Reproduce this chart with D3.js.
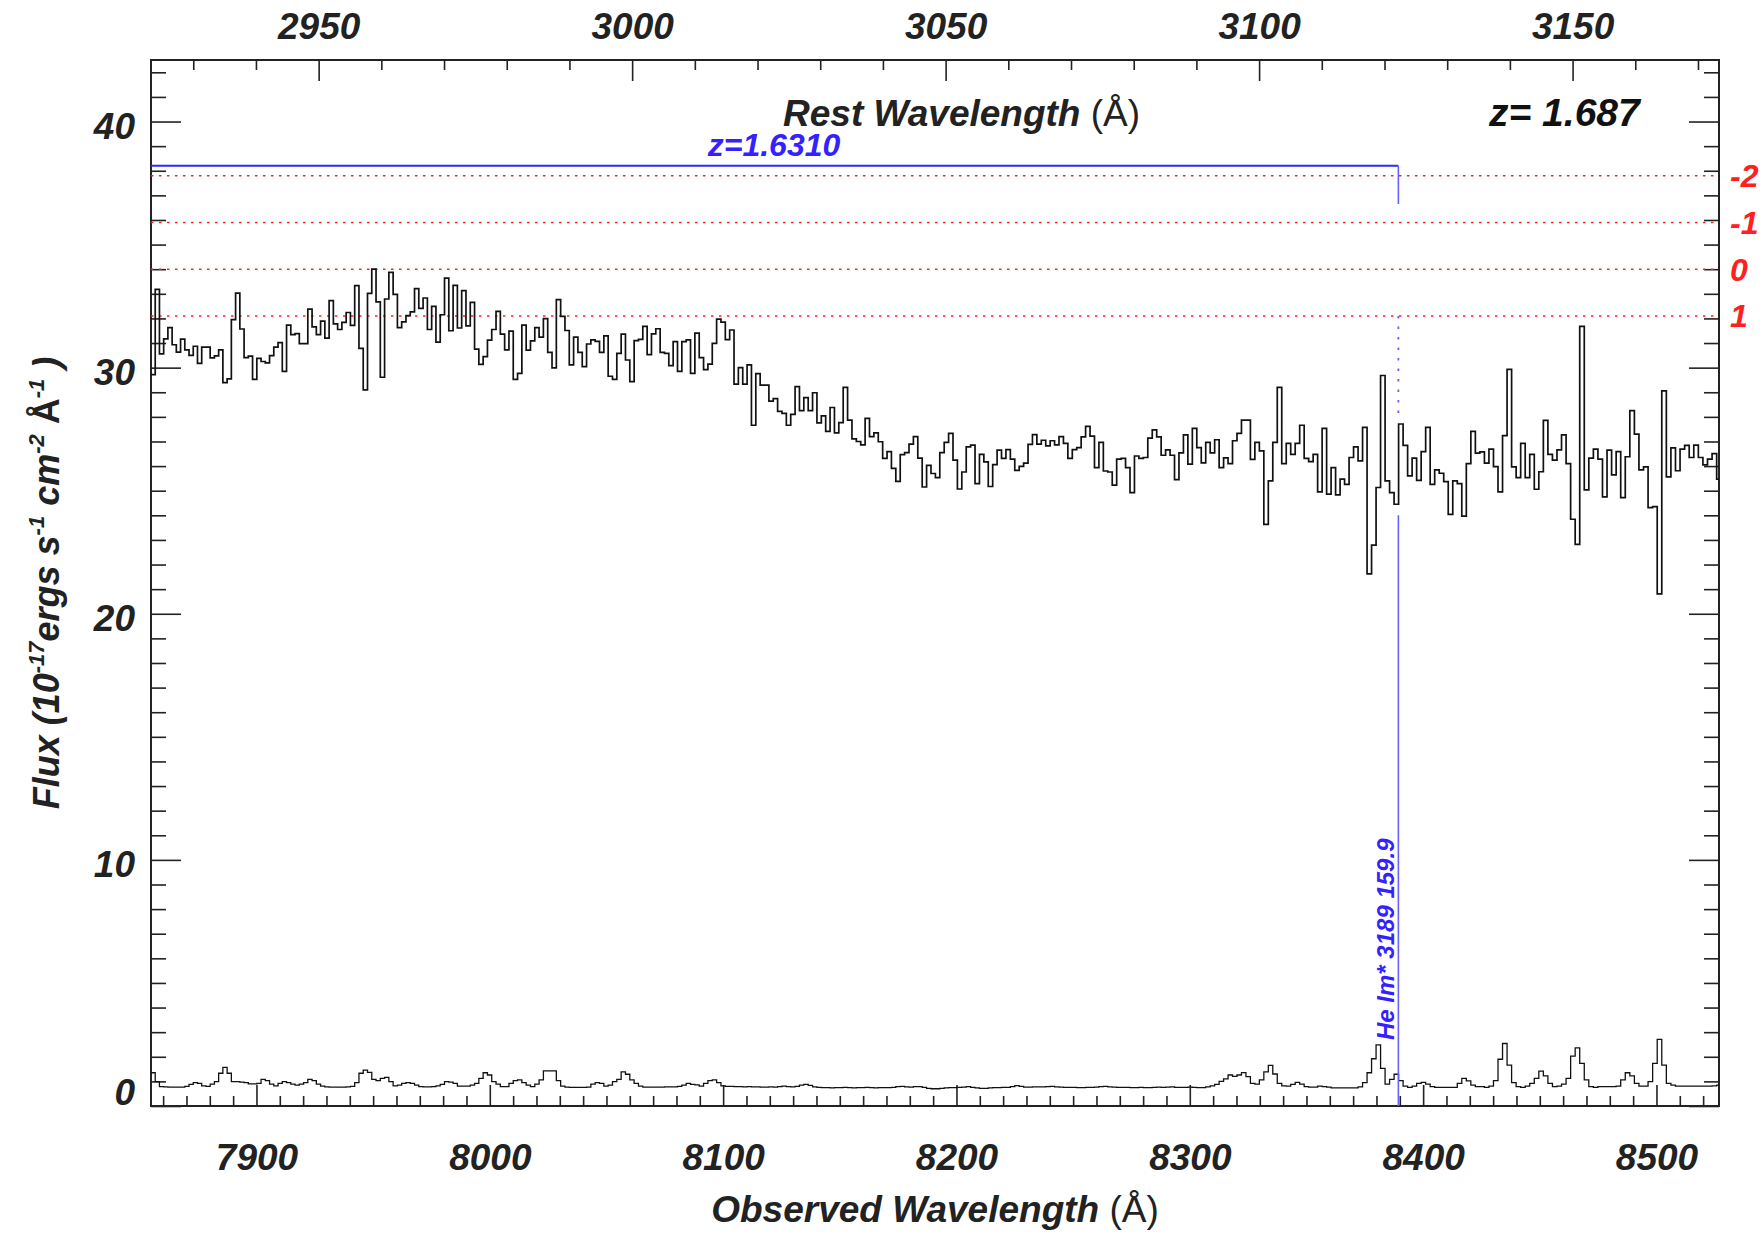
<!DOCTYPE html>
<html>
<head>
<meta charset="utf-8">
<script src="https://d3js.org/d3.v7.min.js"></script>
<style>
body { margin: 0; background: #fff; }
text { font-family: "Liberation Sans", Arial, Helvetica, sans-serif; }
</style>
</head>
<body>
<div id="viz"></div>
<script>
// spectrum binning (log-linear, SDSS style)
var waveStart = 7854.8;
var logStep = 1e-4;
var waveRange = [7854.8, 8526.8];

var flux = [
  29.72, 33.18, 30.56, 31.17, 31.63, 30.93, 30.63, 31.16, 30.72, 30.50,
  30.87, 30.17, 30.83, 30.83, 30.40, 30.48, 30.72, 29.39, 29.54, 31.95,
  33.03, 31.57, 30.41, 30.47, 29.52, 30.38, 30.25, 30.19, 30.49, 30.83,
  31.02, 29.85, 31.73, 31.34, 31.38, 30.98, 30.98, 32.38, 31.66, 31.34,
  31.89, 31.20, 32.72, 31.78, 31.55, 31.84, 32.24, 31.72, 33.33, 30.78,
  29.10, 33.02, 34.00, 32.67, 29.61, 32.79, 33.87, 32.98, 31.63, 31.86,
  32.11, 32.27, 33.21, 32.41, 32.83, 31.55, 32.49, 31.04, 32.15, 33.64,
  31.50, 33.34, 31.61, 33.13, 31.70, 32.65, 30.75, 30.13, 30.45, 31.12,
  31.55, 32.29, 31.36, 30.72, 31.48, 29.52, 29.77, 31.73, 30.71, 31.09,
  31.63, 31.24, 31.99,
  30.62, 29.99, 32.76, 32.08, 31.51, 30.11, 31.24, 30.62, 30.04, 30.96,
  31.13, 31.07, 30.62, 31.29, 29.65, 29.52, 30.58, 31.36, 30.31, 29.43,
  31.10, 31.15, 31.68, 30.53, 31.37, 31.58, 30.62, 30.58, 30.08, 31.06,
  29.85, 31.06, 31.13, 29.77, 31.40, 30.41, 29.92, 30.14, 30.99, 31.97,
  31.85, 31.14, 31.53, 29.33, 30.00, 29.33, 30.11, 27.66, 29.76, 29.29,
  29.29, 28.64, 28.74, 28.22, 28.14, 27.66, 28.10, 29.23, 28.25, 28.78,
  28.25, 28.98, 27.76, 28.04, 27.41, 28.38, 27.35, 27.77, 29.20, 27.87,
  27.11, 27.00, 26.86, 27.94, 27.20, 27.35, 26.99, 26.31, 26.59, 25.91,
  25.38, 26.47, 26.55, 26.89, 27.20, 26.32, 25.15, 26.03, 25.70, 25.53,
  26.55,
  26.96, 27.33, 26.24, 25.07, 25.76, 26.78, 26.85, 25.29, 26.48, 26.17,
  25.17, 26.06, 26.65, 26.31, 26.67, 26.28, 25.83, 25.99, 26.12, 26.88,
  27.28, 26.89, 27.05, 26.82, 27.03, 26.86, 27.20, 26.92, 26.31, 26.67,
  26.75, 27.19, 27.61, 27.22, 25.94, 26.96, 25.80, 25.76, 25.23, 26.28,
  26.31, 25.94, 24.92, 26.41, 26.31, 26.35, 27.14, 27.47, 27.19, 26.44,
  26.66, 26.44, 25.45, 26.54, 27.27, 26.08, 27.53, 26.75, 26.13, 26.96,
  26.54, 27.07, 25.94, 26.33, 26.10, 27.03, 27.33, 27.87, 27.87, 26.27,
  26.96, 26.62, 23.63, 25.40, 26.96, 29.20, 26.10, 26.92, 26.48, 26.92,
  27.66, 26.31, 26.18, 26.48, 24.95, 27.53,
  24.86, 25.94, 24.83, 25.47, 25.26, 26.35, 26.78, 26.21, 27.57, 21.62,
  22.79, 25.13, 29.68, 25.40, 24.92, 24.45, 27.71, 26.84, 25.60, 26.32,
  25.42, 26.59, 27.57, 25.26, 25.85, 25.71, 25.37, 24.04, 25.40, 25.29,
  23.97, 26.10, 27.41, 26.53, 26.58, 26.12, 26.69, 25.98, 24.95, 27.24,
  29.93, 25.97, 25.53, 26.92, 25.53, 26.48, 25.06, 25.77, 27.86, 26.48,
  26.24, 26.66, 27.27, 26.10, 23.84, 22.82, 31.68, 25.03, 26.32, 26.69,
  26.28, 24.75, 26.65, 25.64, 26.59, 24.72, 26.38, 28.25, 27.30, 25.85,
  25.97, 24.31, 24.35, 20.81, 29.06, 25.56, 26.74, 25.81, 26.69, 26.84,
  26.35, 26.85, 26.35, 26.05, 26.28, 26.51, 25.47
];

var fluxErr = [
  1.35, 0.99, 0.79, 0.78, 0.77, 0.77, 0.77, 0.77, 0.80, 0.88,
  0.95, 0.92, 0.82, 0.80, 0.89, 0.99, 1.33, 1.57, 1.33, 0.99,
  0.99, 0.97, 0.95, 0.90, 0.90, 0.92, 1.08, 1.03, 0.89, 0.82,
  0.92, 0.99, 0.95, 0.89, 0.85, 0.89, 0.95, 1.08, 1.03, 0.89,
  0.81, 0.78, 0.77, 0.77, 0.77, 0.77, 0.78, 0.80, 0.95, 1.33,
  1.46, 1.37, 1.08, 1.03, 1.12, 1.16, 0.99, 0.82, 0.85, 0.92,
  0.95, 0.92, 0.85, 0.79, 0.78, 0.78, 0.79, 0.82, 0.88, 0.99,
  0.97, 0.92, 0.81, 0.81, 0.81, 0.85, 0.92, 1.12, 1.35, 1.26,
  0.99, 0.89, 0.79, 0.79, 0.92, 1.03, 1.06, 0.95, 0.85, 0.79,
  0.89, 1.06, 1.43, 1.43, 1.43, 1.03, 0.81, 0.77, 0.76, 0.76,
  0.76, 0.76, 0.77, 0.89, 0.95, 0.92, 0.81, 0.85, 0.99, 1.08,
  1.39, 1.29, 1.06, 0.92, 0.81, 0.77, 0.77, 0.77, 0.77, 0.77,
  0.78,
  0.78, 0.78, 0.80, 0.85, 0.92, 0.88, 0.86, 0.81, 0.92, 1.03,
  1.06, 0.95, 0.82, 0.80, 0.80, 0.79, 0.79, 0.78, 0.79, 0.78,
  0.78, 0.77, 0.77, 0.78, 0.77, 0.79, 0.81, 0.79, 0.78, 0.80,
  0.85, 0.88, 0.84, 0.78, 0.76, 0.75, 0.75, 0.74, 0.75, 0.75,
  0.76, 0.75, 0.74, 0.75, 0.75, 0.76, 0.75, 0.74, 0.75, 0.75,
  0.75, 0.76, 0.79, 0.80, 0.78, 0.77, 0.79, 0.79, 0.76, 0.72,
  0.70, 0.70, 0.72, 0.74, 0.75, 0.75, 0.76, 0.77, 0.79, 0.76,
  0.74, 0.72, 0.72, 0.74, 0.75, 0.75, 0.76, 0.76, 0.79, 0.83,
  0.80, 0.77, 0.77, 0.78, 0.78, 0.78, 0.79, 0.80, 0.78, 0.77,
  0.76, 0.76, 0.76, 0.75, 0.75, 0.76, 0.76, 0.77, 0.79, 0.80,
  0.78, 0.77, 0.76, 0.76, 0.76, 0.75, 0.75, 0.76, 0.75, 0.75,
  0.76, 0.77, 0.76, 0.77, 0.78, 0.76,
  0.76, 0.76, 0.77, 0.76, 0.75,
  0.75, 0.78, 0.82, 0.88, 1.00, 1.10, 1.26, 1.20, 1.26, 1.36,
  1.19, 0.92, 0.89, 1.06, 1.39, 1.65, 1.30, 0.92, 0.82, 0.81,
  0.88, 0.96, 0.89, 0.79, 0.77, 0.77, 0.81, 0.79, 0.77, 0.74,
  0.74, 0.74, 0.74, 0.74, 0.74, 0.78, 0.95, 1.35, 1.92, 2.48,
  1.53, 0.89, 1.08, 1.29, 1.03, 0.81, 0.76, 0.81, 0.92, 0.96,
  0.89, 0.79, 0.76, 0.76, 0.76, 0.76, 0.76, 0.92, 1.12, 1.02,
  0.85, 0.79, 0.79, 0.76, 0.81, 1.03, 1.90, 2.54, 1.66, 0.95,
  0.79, 0.76, 0.81, 0.92, 1.12, 1.42, 1.22, 0.92, 0.79, 0.81,
  0.89, 1.12, 2.03, 2.36, 1.73, 1.06, 0.79, 0.76, 0.79, 0.79,
  0.79, 0.79, 0.81, 1.06, 1.35, 1.22, 0.92, 0.81, 0.81, 0.99,
  1.73, 2.71, 1.66, 0.92, 0.85, 0.81, 0.81, 0.81, 0.81, 0.81,
  0.81, 0.81, 0.81, 0.82, 0.85
];

var zQso = 1.687;
var zAbs = 1.6310;
var lineName = "He Im*";
var lineRest = 3188.67;
var lineEw = 159.9;
var absBarFlux = 38.2, absTickFlux = 36.65;
var dotFrom = 32.1, dotTo = 27.85, solidFrom = 24.0;

var sigmaLabels = ["-2", "-1", "0", "1"];
var sigmaFlux = [37.8, 35.9, 34.0, 32.1];

var xTicks = [7900, 8000, 8100, 8200, 8300, 8400, 8500];
var restTicks = [2950, 3000, 3050, 3100, 3150];
var yTicks = [0, 10, 20, 30, 40];
var yRange = [0, 42.5];

var W = 1762, H = 1234;
var L = 151, R = 1719, T = 60, B = 1106;
var labelFont = 37;

var svg = d3.select("#viz")
    .append("svg")
    .attr("width", W)
    .attr("height", H);

var x = d3.scaleLinear().domain(waveRange).range([L, R]);
var xRest = d3.scaleLinear()
    .domain([waveRange[0] / (1 + zQso), waveRange[1] / (1 + zQso)])
    .range([L, R]);
var y = d3.scaleLinear().domain(yRange).range([B, T]);

svg.append("clipPath").attr("id", "plotclip")
  .append("rect")
    .attr("x", L).attr("y", T)
    .attr("width", R - L).attr("height", B - T);

// minor tick lists
var minorX = d3.range(7860, 8527, 10).filter(function(d){ return d % 100 != 0; });
var minorRest = d3.range(2930, 3174, 10).filter(function(d){ return d % 50 != 0; });
var minorY = d3.range(1, 43, 1).filter(function(d){ return d % 10 != 0; });

function styleAxis(g) {
    g.select(".domain").remove();
    g.selectAll("line").attr("stroke", "#222").attr("stroke-width", 1.6);
    g.selectAll("text")
      .attr("fill", "#222")
      .style("font-size", labelFont + "px")
      .style("font-weight", "bold")
      .style("font-style", "italic");
}

// bottom axis
svg.append("g").attr("transform", "translate(0," + B + ")")
    .call(d3.axisBottom(x).tickValues(minorX).tickSize(-10).tickFormat(""))
    .call(styleAxis);
svg.append("g").attr("transform", "translate(0," + B + ")")
    .call(d3.axisBottom(x).tickValues(xTicks).tickSize(-21).tickPadding(38).tickFormat(d3.format("d")))
    .call(styleAxis);

// top axis (rest frame)
svg.append("g").attr("transform", "translate(0," + T + ")")
    .call(d3.axisTop(xRest).tickValues(minorRest).tickSize(-10).tickFormat(""))
    .call(styleAxis);
svg.append("g").attr("transform", "translate(0," + T + ")")
    .call(d3.axisTop(xRest).tickValues(restTicks).tickSize(-21).tickPadding(21).tickFormat(d3.format("d")))
    .call(styleAxis);

// left axis
svg.append("g").attr("transform", "translate(" + L + ",0)")
    .call(d3.axisLeft(y).tickValues(minorY).tickSize(-15).tickFormat(""))
    .call(styleAxis);
var yAxisG = svg.append("g").attr("transform", "translate(" + L + ",0)")
    .call(d3.axisLeft(y).tickValues(yTicks).tickSize(-30).tickPadding(16).tickFormat(d3.format("d")))
    .call(styleAxis);
yAxisG.selectAll("text").attr("dy", function(d){ return d == 0 ? "-0.04em" : "0.46em"; });

// right axis
svg.append("g").attr("transform", "translate(" + R + ",0)")
    .call(d3.axisRight(y).tickValues(minorY).tickSize(-15).tickFormat(""))
    .call(styleAxis);
svg.append("g").attr("transform", "translate(" + R + ",0)")
    .call(d3.axisRight(y).tickValues(yTicks).tickSize(-30).tickFormat(""))
    .call(styleAxis);

// frame
svg.append("rect")
    .attr("x", L).attr("y", T)
    .attr("width", R - L).attr("height", B - T)
    .attr("fill", "none")
    .attr("stroke", "#222")
    .attr("stroke-width", 2);

// spectrum as histogram steps
function binEdge(i) { return waveStart * Math.pow(10, i * logStep); }

function stepPoints(vals) {
    var pts = vals.map(function(v, i){ return [binEdge(i), v]; });
    pts.push([binEdge(vals.length), vals[vals.length - 1]]);
    return pts;
}

var stepLine = d3.line()
    .x(function(d){ return x(d[0]); })
    .y(function(d){ return y(d[1]); })
    .curve(d3.curveStepAfter);

var plot = svg.append("g").attr("clip-path", "url(#plotclip)");

// sigma levels
plot.selectAll(".sigma")
    .data(sigmaFlux)
    .enter().append("line")
    .attr("class", "sigma")
    .attr("x1", L).attr("x2", R)
    .attr("y1", function(d){ return y(d); })
    .attr("y2", function(d){ return y(d); })
    .attr("stroke", "#ff2020")
    .attr("stroke-width", 1.6)
    .attr("stroke-dasharray", "2.5,5.5");

plot.append("path")
    .datum(stepPoints(fluxErr))
    .attr("d", stepLine)
    .attr("fill", "none")
    .attr("stroke", "#111")
    .attr("stroke-width", 1.3);

plot.append("path")
    .datum(stepPoints(flux))
    .attr("d", stepLine)
    .attr("fill", "none")
    .attr("stroke", "#111")
    .attr("stroke-width", 1.7);

// absorber marker
var lineObs = lineRest * (1 + zAbs);
plot.append("line")
    .attr("x1", L).attr("x2", x(lineObs))
    .attr("y1", y(absBarFlux)).attr("y2", y(absBarFlux))
    .attr("stroke", "#2a2aff").attr("stroke-width", 2);
plot.append("line")
    .attr("x1", x(lineObs)).attr("x2", x(lineObs))
    .attr("y1", y(absBarFlux)).attr("y2", y(absTickFlux))
    .attr("stroke", "#6a60ff").attr("stroke-width", 1.6);
plot.append("line")
    .attr("x1", x(lineObs)).attr("x2", x(lineObs))
    .attr("y1", y(dotFrom)).attr("y2", y(dotTo))
    .attr("stroke", "#6a60ff").attr("stroke-width", 1.8)
    .attr("stroke-dasharray", "2.5,8");
plot.append("line")
    .attr("x1", x(lineObs)).attr("x2", x(lineObs))
    .attr("y1", y(solidFrom)).attr("y2", y(0))
    .attr("stroke", "#6a60ff").attr("stroke-width", 1.6);

svg.append("text")
    .attr("x", 774).attr("y", y(absBarFlux) - 10)
    .attr("text-anchor", "middle")
    .attr("fill", "#3322ff")
    .style("font-size", "32px").style("font-weight", "bold").style("font-style", "italic")
    .text("z=" + zAbs.toFixed(4));

svg.append("text")
    .attr("transform", "translate(" + (x(lineObs) - 4) + "," + 1040 + ") rotate(-90)")
    .attr("fill", "#3322ff")
    .style("font-size", "24px").style("font-weight", "bold").style("font-style", "italic")
    .text(lineName + " " + Math.round(lineRest) + " " + lineEw.toFixed(1));

// sigma labels on the right
svg.selectAll(".siglab")
    .data(sigmaLabels)
    .enter().append("text")
    .attr("class", "siglab")
    .attr("x", R + 11)
    .attr("y", function(d, i){ return y(sigmaFlux[i]); })
    .attr("dy", "0.36em")
    .attr("fill", "#ff2020")
    .style("font-size", "32px").style("font-weight", "bold").style("font-style", "italic")
    .text(function(d){ return d; });

// titles
function boldItalic(sel, size) {
    return sel.style("font-size", size + "px").style("font-weight", "bold").style("font-style", "italic");
}

var rest = svg.append("text").attr("x", 783).attr("y", 126).attr("fill", "#222");
boldItalic(rest, labelFont);
rest.append("tspan").text("Rest Wavelength ");
rest.append("tspan").style("font-weight", "normal").style("font-style", "normal").text("(\u00C5)");

boldItalic(svg.append("text").attr("x", 1489).attr("y", 126).attr("fill", "#111"), 39)
    .text("z= " + zQso.toFixed(3));

var obs = svg.append("text").attr("x", (L + R) / 2).attr("y", 1222)
    .attr("text-anchor", "middle").attr("fill", "#222");
boldItalic(obs, labelFont);
obs.append("tspan").text("Observed Wavelength ");
obs.append("tspan").style("font-weight", "normal").style("font-style", "normal").text("(\u00C5)");

var yt = svg.append("text")
    .attr("transform", "translate(59," + ((T + B) / 2) + ") rotate(-90)")
    .attr("text-anchor", "middle").attr("fill", "#222");
boldItalic(yt, 36);
yt.append("tspan").text("Flux (10");
yt.append("tspan").attr("dy", -15).style("font-size", "22px").text("-17");
yt.append("tspan").attr("dy", 15).text("ergs s");
yt.append("tspan").attr("dy", -15).style("font-size", "22px").text("-1");
yt.append("tspan").attr("dy", 15).text(" cm");
yt.append("tspan").attr("dy", -15).style("font-size", "22px").text("-2");
yt.append("tspan").attr("dy", 15).style("font-style", "normal").text(" \u00C5");
yt.append("tspan").attr("dy", -15).style("font-size", "22px").text("-1");
yt.append("tspan").attr("dy", 15).text(" )");
</script>
</body>
</html>
